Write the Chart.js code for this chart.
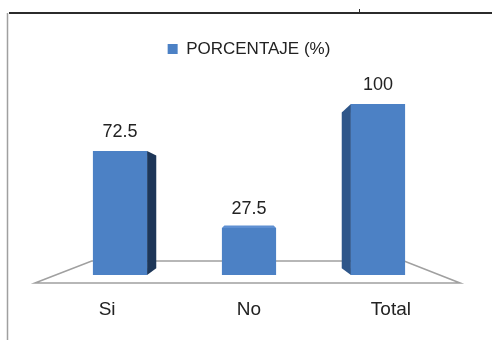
<!DOCTYPE html>
<html><head><meta charset="utf-8">
<script src="https://cdn.jsdelivr.net/npm/chart.js@4/dist/chart.umd.min.js"></script>
<style>html,body{margin:0;padding:0;background:#fff;}canvas{display:block;}</style>
</head><body>
<canvas id="c" width="492" height="340"></canvas>
<script>
// ---- data ----
const categories = ['Si', 'No', 'Total'];
const seriesName = 'PORCENTAJE (%)';
const porcentaje = [72.5, 27.5, 100];
const yMin = 0;
const yMax = 100;

// ---- style constants ----
const FONT = "'Liberation Sans', Arial, sans-serif";
const TEXT = '#222222';
const FRONT = '#4c81c5';
const VP_VALUE = 44;       // eye level (in data units) for the 3D look
const DEPTH = 0.91;        // bar depth factor
const FLOOR_DEPTH = 0.735; // floor depth factor
const LEGEND_TOP = 30.5, PLOT_TOP = 104;

const threeD = {
  id: 'threeD',
  beforeLayout(chart) {
    const lg = chart.legend;
    if (lg && !lg._patched) {
      const orig = lg.fit;
      lg.fit = function () { orig.call(this); this.height = PLOT_TOP - LEGEND_TOP; };
      lg._patched = true;
    }
  },
  beforeDraw(chart) {
    const ctx = chart.ctx;
    ctx.save();
    ctx.fillStyle = '#ffffff';
    ctx.fillRect(0, 0, chart.width, chart.height);
    ctx.strokeStyle = '#2b2b2b'; ctx.lineWidth = 2;
    ctx.beginPath(); ctx.moveTo(9, 13); ctx.lineTo(chart.width, 13); ctx.stroke();
    ctx.lineWidth = 1;
    ctx.beginPath(); ctx.moveTo(359.5, 9); ctx.lineTo(359.5, 13); ctx.stroke();
    ctx.strokeStyle = '#a0a0a0'; ctx.lineWidth = 1.5;
    ctx.beginPath(); ctx.moveTo(7.5, 13); ctx.lineTo(7.5, chart.height); ctx.stroke();
    ctx.restore();
  },
  beforeDatasetsDraw(chart) {
    const { ctx, chartArea: a, scales: { x, y } } = chart;
    const vx = (a.left + a.right) / 2, vy = y.getPixelForValue(VP_VALUE);
    const P = (px, py, k) => [vx + (px - vx) * k, vy + (py - vy) * k];
    const base = y.getPixelForValue(yMin);
    ctx.save();
    // floor
    const fy = base + 8, fl = a.left - 20.5, fr = a.right + 17.5;
    const bl = P(fl, fy, FLOOR_DEPTH), br = P(fr, fy, FLOOR_DEPTH);
    ctx.beginPath();
    ctx.moveTo(fl, fy); ctx.lineTo(bl[0], bl[1]); ctx.lineTo(br[0], br[1]); ctx.lineTo(fr, fy);
    ctx.closePath();
    ctx.fillStyle = '#ffffff'; ctx.fill();
    ctx.strokeStyle = '#a0a0a0'; ctx.lineWidth = 1.6; ctx.stroke();
    // bar back faces
    const meta = chart.getDatasetMeta(0);
    meta.data.forEach(bar => {
      const p = bar.getProps(['x', 'y', 'base', 'width'], true);
      const l = p.x - p.width / 2, r = p.x + p.width / 2, t = p.y, b = p.base;
      const poly = (pts, col) => {
        ctx.beginPath(); ctx.moveTo(pts[0][0], pts[0][1]);
        for (let i = 1; i < pts.length; i++) ctx.lineTo(pts[i][0], pts[i][1]);
        ctx.closePath(); ctx.fillStyle = col; ctx.fill();
      };
      if (r < vx) poly([[r, t], P(r, t, DEPTH), P(r, b, DEPTH), [r, b]], '#1d3658');
      if (l > vx) poly([[l, t], P(l, t, DEPTH), P(l, b, DEPTH), [l, b]], '#2e568a');
      if (t > vy) poly([[l, t], [r, t], P(r, t, DEPTH), P(l, t, DEPTH)], '#5f90d2');
    });
    ctx.restore();
  },
  afterDatasetsDraw(chart) {
    const { ctx, chartArea: a, scales: { x } } = chart;
    const vx = (a.left + a.right) / 2;
    const meta = chart.getDatasetMeta(0);
    ctx.save();
    ctx.fillStyle = TEXT; ctx.textAlign = 'center'; ctx.textBaseline = 'middle';
    meta.data.forEach((bar, i) => {
      const p = bar.getProps(['x', 'y'], true);
      ctx.font = '18px ' + FONT;
      ctx.fillText(String(porcentaje[i]), p.x, p.y - 19);
    });
    categories.forEach((c, i) => {
      const cx = x.getPixelForValue(i);
      ctx.font = '19px ' + FONT;
      ctx.fillText(c, vx + (cx - vx) * 1.1, 310);
    });
    ctx.restore();
  }
};

new Chart(document.getElementById('c'), {
  type: 'bar',
  data: {
    labels: categories,
    datasets: [{
      label: seriesName,
      data: porcentaje,
      backgroundColor: FRONT,
      borderWidth: 0,
      categoryPercentage: 1,
      barPercentage: 0.42
    }]
  },
  options: {
    responsive: false,
    animation: false,
    devicePixelRatio: 1,
    layout: { padding: { left: 55.5, right: 49.5, top: LEGEND_TOP, bottom: 65 } },
    scales: {
      x: { display: false },
      y: { display: false, min: yMin, max: yMax }
    },
    plugins: {
      legend: {
        display: true, position: 'top',
        labels: { boxWidth: 10, boxHeight: 10, padding: 10, color: TEXT, font: { size: 17, family: FONT } }
      },
      tooltip: { enabled: false }
    }
  },
  plugins: [threeD]
});
</script>
</body></html>
